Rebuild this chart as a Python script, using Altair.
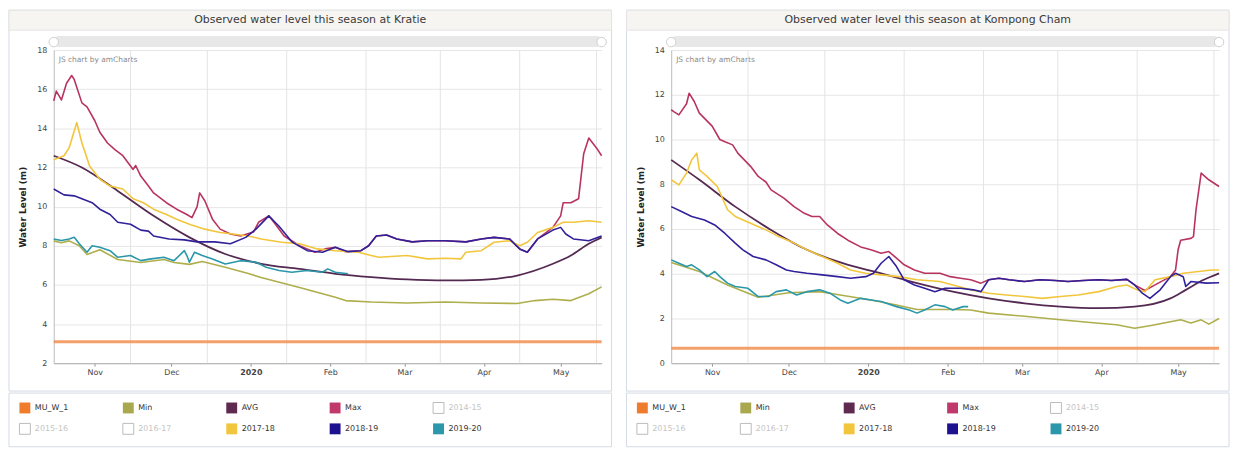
import altair as alt
import pandas as pd

# ---------------- data ----------------
SERIES = ["MU_W_1", "Min", "AVG", "Max", "2014-15", "2015-16", "2016-17",
          "2017-18", "2018-19", "2019-20"]
LINE_COLORS = ["#f28f50", "#aeae4c", "#552a52", "#b8345e", "#cccccc", "#cccccc",
               "#cccccc", "#f2c63c", "#30219a", "#2a97aa"]
LEGEND_FILLS = ["#ef7b2d", "#a9a84e", "#5e2a50", "#c0396a", "#ffffff", "#ffffff",
                "#ffffff", "#f2c63c", "#1e1190", "#2a97aa"]
VISIBLE = [True, True, True, True, False, False, False, True, True, True]
LEGEND_COL = [0, 1, 2, 3, 4, 0, 1, 2, 3, 4]
LEGEND_ROW = [0, 0, 0, 0, 0, 1, 1, 1, 1, 1]

MONTH_TICKS = [(2019, 11), (2019, 12), (2020, 1), (2020, 2), (2020, 3), (2020, 4), (2020, 5)]
GRID_DATES = ["2019-11-15", "2019-12-15", "2020-01-15", "2020-02-15",
              "2020-03-15", "2020-04-15", "2020-05-15"]
SEASON = ("2019-10-16", "2020-05-17")

KRATIE_TICKS = [2, 4, 6, 8, 10, 12, 14, 16, 18]
KCHAM_TICKS = [0, 2, 4, 6, 8, 10, 12, 14]

# ---- Kratie ----
K_MUW = [("2019-10-16", 3.1), ("2020-05-17", 3.1)]
K_MIN = [("2019-10-16", 8.25), ("2019-10-19", 8.15), ("2019-10-22", 8.25), ("2019-10-26", 8.0),
         ("2019-10-29", 7.55), ("2019-11-03", 7.8), ("2019-11-10", 7.3), ("2019-11-19", 7.15),
         ("2019-11-28", 7.3), ("2019-12-02", 7.15), ("2019-12-08", 7.05), ("2019-12-13", 7.2),
         ("2019-12-22", 6.9), ("2019-12-31", 6.58), ("2020-01-05", 6.38), ("2020-01-20", 5.87),
         ("2020-02-03", 5.37), ("2020-02-07", 5.2), ("2020-02-17", 5.13), ("2020-03-02", 5.08),
         ("2020-03-17", 5.13), ("2020-03-31", 5.08), ("2020-04-14", 5.05), ("2020-04-21", 5.2),
         ("2020-04-28", 5.27), ("2020-05-05", 5.2), ("2020-05-12", 5.55), ("2020-05-17", 5.9)]
K_AVG = [("2019-10-16", 12.6), ("2019-10-27", 12.0), ("2019-11-10", 10.8), ("2019-11-24", 9.53),
         ("2019-12-08", 8.43), ("2019-12-22", 7.58), ("2020-01-05", 7.08), ("2020-01-20", 6.82),
         ("2020-02-03", 6.57), ("2020-02-17", 6.4), ("2020-03-02", 6.28), ("2020-03-17", 6.23),
         ("2020-03-31", 6.26), ("2020-04-14", 6.48), ("2020-04-28", 7.08), ("2020-05-05", 7.5),
         ("2020-05-12", 8.1), ("2020-05-17", 8.43)]
K_MAX = [("2019-10-16", 15.4), ("2019-10-17", 15.9), ("2019-10-19", 15.45), ("2019-10-21", 16.3),
         ("2019-10-23", 16.7), ("2019-10-24", 16.5), ("2019-10-27", 15.3), ("2019-10-29", 15.1),
         ("2019-11-01", 14.4), ("2019-11-03", 13.8), ("2019-11-06", 13.25), ("2019-11-09", 12.9),
         ("2019-11-12", 12.6), ("2019-11-16", 11.9), ("2019-11-17", 12.1), ("2019-11-19", 11.56),
         ("2019-11-22", 11.05), ("2019-11-24", 10.7), ("2019-11-29", 10.2), ("2019-12-03", 9.87),
         ("2019-12-07", 9.6), ("2019-12-09", 9.44), ("2019-12-11", 10.0), ("2019-12-12", 10.7),
         ("2019-12-14", 10.3), ("2019-12-17", 9.36), ("2019-12-20", 8.85), ("2019-12-24", 8.6),
         ("2019-12-28", 8.5), ("2020-01-02", 8.7), ("2020-01-04", 9.2), ("2020-01-08", 9.53),
         ("2020-01-10", 9.2), ("2020-01-14", 8.5), ("2020-01-20", 8.0), ("2020-01-26", 7.67),
         ("2020-01-30", 7.84), ("2020-02-03", 7.92), ("2020-02-07", 7.7), ("2020-02-13", 7.75),
         ("2020-02-16", 8.0), ("2020-02-19", 8.5), ("2020-02-23", 8.55), ("2020-02-27", 8.35),
         ("2020-03-04", 8.2), ("2020-03-10", 8.26), ("2020-03-17", 8.26), ("2020-03-25", 8.2),
         ("2020-03-31", 8.35), ("2020-04-05", 8.43), ("2020-04-11", 8.35), ("2020-04-15", 7.84),
         ("2020-04-18", 7.67), ("2020-04-22", 8.35), ("2020-04-28", 8.94), ("2020-05-01", 9.53),
         ("2020-05-02", 10.2), ("2020-05-05", 10.2), ("2020-05-08", 10.4), ("2020-05-10", 12.7),
         ("2020-05-12", 13.5), ("2020-05-15", 13.0), ("2020-05-17", 12.6)]
K_1718 = [("2019-10-16", 12.4), ("2019-10-20", 12.6), ("2019-10-22", 13.0), ("2019-10-25", 14.3),
          ("2019-10-27", 13.25), ("2019-10-30", 12.07), ("2019-11-03", 11.4), ("2019-11-07", 11.05),
          ("2019-11-12", 10.9), ("2019-11-16", 10.4), ("2019-11-20", 10.2), ("2019-11-24", 9.87),
          ("2019-11-29", 9.6), ("2019-12-03", 9.36), ("2019-12-08", 9.1), ("2019-12-14", 8.85),
          ("2019-12-20", 8.68), ("2019-12-25", 8.6), ("2019-12-31", 8.5), ("2020-01-05", 8.35),
          ("2020-01-13", 8.18), ("2020-01-20", 8.1), ("2020-01-27", 7.84), ("2020-02-03", 7.75),
          ("2020-02-12", 7.67), ("2020-02-17", 7.5), ("2020-02-20", 7.41), ("2020-03-02", 7.5),
          ("2020-03-10", 7.33), ("2020-03-17", 7.36), ("2020-03-23", 7.33), ("2020-03-25", 7.67),
          ("2020-03-31", 7.75), ("2020-04-05", 8.18), ("2020-04-11", 8.26), ("2020-04-15", 8.0),
          ("2020-04-18", 8.18), ("2020-04-22", 8.68), ("2020-04-28", 8.94), ("2020-05-02", 9.2),
          ("2020-05-06", 9.2), ("2020-05-12", 9.28), ("2020-05-17", 9.2)]
K_1819 = [("2019-10-16", 10.9), ("2019-10-20", 10.6), ("2019-10-24", 10.55), ("2019-10-27", 10.4),
          ("2019-10-31", 10.2), ("2019-11-03", 9.87), ("2019-11-07", 9.6), ("2019-11-10", 9.2),
          ("2019-11-15", 9.1), ("2019-11-19", 8.8), ("2019-11-22", 8.75), ("2019-11-24", 8.5),
          ("2019-11-30", 8.35), ("2019-12-06", 8.3), ("2019-12-11", 8.2), ("2019-12-18", 8.2),
          ("2019-12-24", 8.1), ("2019-12-30", 8.43), ("2020-01-03", 8.85), ("2020-01-08", 9.53),
          ("2020-01-12", 9.0), ("2020-01-17", 8.2), ("2020-01-23", 7.75), ("2020-01-29", 7.67),
          ("2020-02-03", 7.92), ("2020-02-08", 7.7), ("2020-02-13", 7.75), ("2020-02-16", 8.0),
          ("2020-02-19", 8.5), ("2020-02-23", 8.55), ("2020-02-27", 8.35), ("2020-03-04", 8.2),
          ("2020-03-10", 8.26), ("2020-03-17", 8.26), ("2020-03-25", 8.2), ("2020-03-31", 8.35),
          ("2020-04-05", 8.43), ("2020-04-11", 8.35), ("2020-04-15", 7.84), ("2020-04-18", 7.67),
          ("2020-04-22", 8.35), ("2020-04-28", 8.8), ("2020-05-01", 8.94), ("2020-05-03", 8.6),
          ("2020-05-06", 8.35), ("2020-05-12", 8.26), ("2020-05-17", 8.5)]
K_1920 = [("2019-10-16", 8.35), ("2019-10-19", 8.27), ("2019-10-22", 8.35), ("2019-10-24", 8.43),
          ("2019-10-26", 8.1), ("2019-10-29", 7.67), ("2019-10-31", 8.0), ("2019-11-03", 7.92),
          ("2019-11-07", 7.75), ("2019-11-10", 7.41), ("2019-11-15", 7.5), ("2019-11-19", 7.24),
          ("2019-11-23", 7.33), ("2019-11-28", 7.41), ("2019-12-02", 7.24), ("2019-12-06", 7.75),
          ("2019-12-07", 7.5), ("2019-12-08", 7.16), ("2019-12-10", 7.67), ("2019-12-13", 7.5),
          ("2019-12-17", 7.33), ("2019-12-22", 7.07), ("2019-12-28", 7.24), ("2020-01-03", 7.16),
          ("2020-01-07", 6.9), ("2020-01-12", 6.74), ("2020-01-17", 6.65), ("2020-01-23", 6.74),
          ("2020-01-29", 6.65), ("2020-01-31", 6.82), ("2020-02-03", 6.65), ("2020-02-08", 6.57)]

# ---- Kompong Cham ----
C_MUW = [("2019-10-16", 0.67), ("2020-05-17", 0.67)]
C_MIN = [("2019-10-16", 4.5), ("2019-10-27", 4.1), ("2019-11-07", 3.5), ("2019-11-19", 2.95),
         ("2019-12-01", 3.15), ("2019-12-13", 3.2), ("2019-12-21", 3.05), ("2020-01-02", 2.83),
         ("2020-01-12", 2.6), ("2020-01-20", 2.4), ("2020-02-03", 2.4), ("2020-02-10", 2.38),
         ("2020-02-17", 2.24), ("2020-03-02", 2.1), ("2020-03-16", 1.94), ("2020-03-31", 1.79),
         ("2020-04-07", 1.72), ("2020-04-14", 1.56), ("2020-04-17", 1.62), ("2020-04-21", 1.7),
         ("2020-04-28", 1.85), ("2020-05-02", 1.94), ("2020-05-06", 1.8), ("2020-05-10", 1.94),
         ("2020-05-13", 1.75), ("2020-05-17", 2.0)]
C_AVG = [("2019-10-16", 9.09), ("2019-10-27", 8.2), ("2019-11-10", 7.0), ("2019-11-24", 5.96),
         ("2019-12-08", 5.07), ("2019-12-22", 4.47), ("2020-01-06", 4.02), ("2020-01-20", 3.58),
         ("2020-02-03", 3.2), ("2020-02-17", 2.9), ("2020-03-02", 2.68), ("2020-03-16", 2.53),
         ("2020-03-31", 2.46), ("2020-04-14", 2.53), ("2020-04-28", 2.9), ("2020-05-04", 3.28),
         ("2020-05-11", 3.73), ("2020-05-17", 4.02)]
C_MAX = [("2019-10-16", 11.33), ("2019-10-17", 11.25), ("2019-10-19", 11.1), ("2019-10-22", 11.6),
         ("2019-10-23", 12.07), ("2019-10-25", 11.7), ("2019-10-27", 11.18), ("2019-11-01", 10.6),
         ("2019-11-04", 10.0), ("2019-11-06", 9.9), ("2019-11-09", 9.76), ("2019-11-11", 9.39),
         ("2019-11-16", 8.8), ("2019-11-19", 8.35), ("2019-11-22", 8.1), ("2019-11-24", 7.75),
         ("2019-11-29", 7.38), ("2019-12-03", 7.0), ("2019-12-07", 6.7), ("2019-12-10", 6.56),
         ("2019-12-13", 6.56), ("2019-12-16", 6.18), ("2019-12-20", 5.8), ("2019-12-24", 5.5),
         ("2019-12-29", 5.2), ("2020-01-02", 5.07), ("2020-01-06", 4.92), ("2020-01-09", 4.99),
         ("2020-01-12", 4.7), ("2020-01-15", 4.4), ("2020-01-19", 4.17), ("2020-01-23", 4.02),
         ("2020-01-29", 4.02), ("2020-02-02", 3.87), ("2020-02-06", 3.8), ("2020-02-10", 3.73),
         ("2020-02-14", 3.58), ("2020-02-17", 3.73), ("2020-02-21", 3.8), ("2020-02-25", 3.73),
         ("2020-03-02", 3.65), ("2020-03-08", 3.73), ("2020-03-14", 3.7), ("2020-03-19", 3.65),
         ("2020-03-25", 3.7), ("2020-03-31", 3.73), ("2020-04-05", 3.7), ("2020-04-11", 3.75),
         ("2020-04-14", 3.5), ("2020-04-18", 3.25), ("2020-04-22", 3.5), ("2020-04-28", 3.87),
         ("2020-04-30", 4.17), ("2020-05-01", 5.07), ("2020-05-02", 5.5), ("2020-05-06", 5.58),
         ("2020-05-07", 5.66), ("2020-05-08", 6.86), ("2020-05-10", 8.5), ("2020-05-11", 8.4),
         ("2020-05-13", 8.2), ("2020-05-17", 7.9)]
C_1718 = [("2019-10-16", 8.2), ("2019-10-19", 7.97), ("2019-10-22", 8.5), ("2019-10-24", 9.09),
          ("2019-10-26", 9.39), ("2019-10-27", 8.64), ("2019-10-30", 8.35), ("2019-11-03", 7.9),
          ("2019-11-07", 6.86), ("2019-11-10", 6.56), ("2019-11-16", 6.26), ("2019-11-22", 5.96),
          ("2019-11-27", 5.66), ("2019-12-03", 5.37), ("2019-12-08", 5.07), ("2019-12-14", 4.77),
          ("2019-12-20", 4.47), ("2019-12-25", 4.17), ("2019-12-31", 4.02), ("2020-01-06", 3.95),
          ("2020-01-13", 3.87), ("2020-01-20", 3.73), ("2020-01-29", 3.65), ("2020-02-03", 3.5),
          ("2020-02-10", 3.28), ("2020-02-17", 3.13), ("2020-02-24", 3.05), ("2020-03-02", 2.98),
          ("2020-03-09", 2.9), ("2020-03-16", 2.98), ("2020-03-23", 3.05), ("2020-03-31", 3.2),
          ("2020-04-07", 3.43), ("2020-04-11", 3.5), ("2020-04-15", 3.28), ("2020-04-18", 3.2),
          ("2020-04-22", 3.73), ("2020-04-28", 3.87), ("2020-05-03", 4.02), ("2020-05-09", 4.1),
          ("2020-05-14", 4.17), ("2020-05-17", 4.17)]
C_1819 = [("2019-10-16", 7.0), ("2019-10-20", 6.78), ("2019-10-24", 6.56), ("2019-10-29", 6.4),
          ("2019-11-02", 6.18), ("2019-11-06", 5.8), ("2019-11-10", 5.37), ("2019-11-13", 5.07),
          ("2019-11-17", 4.77), ("2019-11-22", 4.62), ("2019-11-26", 4.4), ("2019-11-30", 4.17),
          ("2019-12-03", 4.1), ("2019-12-08", 4.02), ("2019-12-14", 3.95), ("2019-12-20", 3.87),
          ("2019-12-25", 3.8), ("2019-12-31", 3.87), ("2020-01-03", 4.02), ("2020-01-06", 4.47),
          ("2020-01-09", 4.77), ("2020-01-12", 4.32), ("2020-01-15", 3.73), ("2020-01-19", 3.5),
          ("2020-01-23", 3.35), ("2020-01-27", 3.2), ("2020-01-31", 3.35), ("2020-02-06", 3.35),
          ("2020-02-11", 3.28), ("2020-02-14", 3.2), ("2020-02-17", 3.73), ("2020-02-21", 3.8),
          ("2020-02-25", 3.73), ("2020-03-02", 3.65), ("2020-03-08", 3.73), ("2020-03-14", 3.7),
          ("2020-03-19", 3.65), ("2020-03-25", 3.7), ("2020-03-31", 3.73), ("2020-04-05", 3.7),
          ("2020-04-11", 3.75), ("2020-04-14", 3.5), ("2020-04-17", 3.13), ("2020-04-20", 2.9),
          ("2020-04-24", 3.28), ("2020-04-28", 3.87), ("2020-04-30", 4.02), ("2020-05-03", 3.87),
          ("2020-05-04", 3.43), ("2020-05-06", 3.65), ("2020-05-12", 3.58), ("2020-05-17", 3.6)]
C_1920 = [("2019-10-16", 4.62), ("2019-10-19", 4.47), ("2019-10-22", 4.32), ("2019-10-24", 4.4),
          ("2019-10-27", 4.17), ("2019-10-30", 3.87), ("2019-11-02", 4.1), ("2019-11-04", 3.87),
          ("2019-11-07", 3.58), ("2019-11-10", 3.43), ("2019-11-15", 3.35), ("2019-11-19", 2.98),
          ("2019-11-23", 2.98), ("2019-11-26", 3.2), ("2019-11-30", 3.28), ("2019-12-04", 3.05),
          ("2019-12-08", 3.2), ("2019-12-13", 3.28), ("2019-12-17", 3.13), ("2019-12-21", 2.83),
          ("2019-12-24", 2.68), ("2019-12-29", 2.9), ("2020-01-02", 2.83), ("2020-01-06", 2.76),
          ("2020-01-12", 2.53), ("2020-01-17", 2.38), ("2020-01-20", 2.24), ("2020-01-23", 2.38),
          ("2020-01-27", 2.61), ("2020-01-31", 2.53), ("2020-02-03", 2.38), ("2020-02-07", 2.53),
          ("2020-02-09", 2.53)]

KRATIE = {"MU_W_1": K_MUW, "Min": K_MIN, "AVG": K_AVG, "Max": K_MAX,
          "2017-18": K_1718, "2018-19": K_1819, "2019-20": K_1920}
KCHAM = {"MU_W_1": C_MUW, "Min": C_MIN, "AVG": C_AVG, "Max": C_MAX,
         "2017-18": C_1718, "2018-19": C_1819, "2019-20": C_1920}

# ---------------- layout / style ----------------
W, H = 551, 315
LEFT, RIGHT, TOP, BOTTOM = 45, 10, 40, 28
LEG_H = 54
BORDER = "#d3dbe4"
FONT = "DejaVu Sans"


def to_frame(pairs, name):
    return pd.DataFrame({"date": pd.to_datetime([p[0] for p in pairs]),
                         "level": [p[1] for p in pairs],
                         "series": name})


def dt(s):
    t = pd.Timestamp(s)
    return alt.DateTime(year=t.year, month=t.month, date=t.day)


def panel(title, data, ticks):
    df = pd.concat([to_frame(p, n) for n, p in data.items()], ignore_index=True)
    one = pd.DataFrame({"k": [0]})

    xaxis = alt.Axis(
        values=[alt.DateTime(year=y, month=m, date=1) for y, m in MONTH_TICKS],
        labelExpr="month(datum.value) == 0 ? timeFormat(datum.value, '%Y') : timeFormat(datum.value, '%b')",
        labelFontWeight={"condition": {"test": "month(datum.value) == 0", "value": "bold"},
                         "value": "normal"},
        grid=False, tickSize=3, tickColor="#999", domainColor="#aaa",
        labelFontSize=8, labelColor="#444", labelPadding=2, title=None)
    xenc = alt.X("date:T", scale=alt.Scale(domain=[dt(SEASON[0]), dt(SEASON[1])]), axis=xaxis)

    yaxis = alt.Axis(values=ticks, title="Water Level (m)", titleFontSize=9,
                     titleFontWeight="bold", titleColor="#222", titlePadding=9,
                     labelFontSize=8, labelColor="#444", labelPadding=7, ticks=False,
                     domainColor="#bbb", gridColor="#e6e6e6")
    yenc = alt.Y("level:Q", scale=alt.Scale(domain=[ticks[0], ticks[-1]], nice=False, zero=False),
                 axis=yaxis)
    color = alt.Color("series:N", scale=alt.Scale(domain=SERIES, range=LINE_COLORS), legend=None)

    frame = alt.Chart(one).mark_rect(fill="white", fillOpacity=0, stroke=BORDER).encode(
        x=alt.value(-LEFT), x2=alt.value(W + RIGHT), y=alt.value(-TOP), y2=alt.value(H + BOTTOM))
    band = alt.Chart(one).mark_rect(fill="#f7f5f2", stroke="#e4e4e4").encode(
        x=alt.value(-LEFT), x2=alt.value(W + RIGHT), y=alt.value(-TOP), y2=alt.value(-20))
    ttl = alt.Chart(one).mark_text(text=title, fontSize=11, color="#3a3a3a").encode(
        x=alt.value((W + RIGHT - LEFT) / 2), y=alt.value(-30))
    scroll = alt.Chart(one).mark_rect(fill="#e8e8e8", cornerRadius=5).encode(
        x=alt.value(0), x2=alt.value(W), y=alt.value(-14), y2=alt.value(-3))
    grip_l = alt.Chart(one).mark_point(shape="circle", size=90, filled=True, fill="white",
                                       stroke="#cfcfcf", strokeWidth=1, opacity=1).encode(
        x=alt.value(0), y=alt.value(-8))
    grip_r = alt.Chart(one).mark_point(shape="circle", size=90, filled=True, fill="white",
                                       stroke="#cfcfcf", strokeWidth=1, opacity=1).encode(
        x=alt.value(W), y=alt.value(-8))
    mark_txt = alt.Chart(one).mark_text(text="JS chart by amCharts", fontSize=7.5, color="#8a8a8a",
                                        align="left", baseline="top").encode(
        x=alt.value(5), y=alt.value(6))

    grid = alt.Chart(pd.DataFrame({"date": pd.to_datetime(GRID_DATES)})).mark_rule(
        color="#e4e4e4", strokeWidth=1).encode(x=xenc)

    base = alt.Chart(df).encode(x=xenc, y=yenc, color=color)
    muw = base.transform_filter("datum.series == 'MU_W_1'").mark_line(strokeWidth=3, opacity=0.85)
    avg = base.transform_filter("datum.series == 'AVG'").mark_line(strokeWidth=1.8,
                                                                   interpolate="monotone")
    jag = base.transform_filter("datum.series != 'MU_W_1' && datum.series != 'AVG'").mark_line(
        strokeWidth=1.6, strokeJoin="round")

    main = alt.layer(frame, band, ttl, scroll, grip_l, grip_r, mark_txt, grid, muw, avg, jag).properties(
        width=W, height=H)

    # legend: shares the plot-area origin, so the box starts LEFT pixels before it
    leg_df = pd.DataFrame({"series": SERIES, "col": LEGEND_COL, "row": LEGEND_ROW, "shown": VISIBLE})
    lx = alt.X("col:Q", scale=alt.Scale(domain=[0.279, 5.577], nice=False, zero=False), axis=None)
    ly = alt.Y("row:Q", scale=alt.Scale(domain=[-0.714, 1.857], nice=False, zero=False,
                                        reverse=True), axis=None)
    leg_box = alt.Chart(one).mark_rect(fill="white", fillOpacity=0, stroke=BORDER).encode(
        x=alt.value(-LEFT), x2=alt.value(W + RIGHT), y=alt.value(0), y2=alt.value(LEG_H))
    squares = alt.Chart(leg_df).mark_square(size=120, strokeWidth=1, opacity=1).encode(
        x=lx, y=ly,
        fill=alt.Fill("series:N", scale=alt.Scale(domain=SERIES, range=LEGEND_FILLS), legend=None),
        stroke=alt.condition("datum.shown", alt.value("transparent"), alt.value("#bbbbbb")))
    labels = alt.Chart(leg_df).mark_text(align="left", baseline="middle", dx=10, fontSize=8).encode(
        x=lx, y=ly, text="series:N",
        color=alt.condition("datum.shown", alt.value("#333333"), alt.value("#c4c4c4")))
    legend = alt.layer(leg_box, squares, labels).properties(width=W, height=LEG_H)

    return alt.vconcat(main, legend, spacing=0)


left = panel("Observed water level this season at Kratie", KRATIE, KRATIE_TICKS)
right = panel("Observed water level this season at Kompong Cham", KCHAM, KCHAM_TICKS)

chart = alt.hconcat(left, right, spacing=13).properties(padding=0).configure(
    font=FONT).configure_view(stroke=None)

chart.save("out.html", embed_options={"renderer": "svg", "actions": False})
